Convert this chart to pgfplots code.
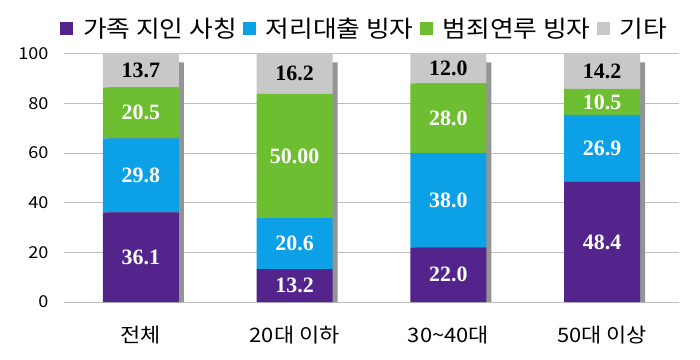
\documentclass[border=0pt]{standalone}
\usepackage{fontspec}
\setmainfont{Noto Sans CJK KR}[FakeStretch=1.1]
\newfontfamily\tnr{Liberation Serif}
\usepackage{pgfplots}
\pgfplotsset{compat=1.18}
\definecolor{cP}{RGB}{82,36,140}
\definecolor{cB}{RGB}{12,160,230}
\definecolor{cG}{RGB}{110,190,50}
\definecolor{cY}{RGB}{200,200,200}
\definecolor{cGrid}{RGB}{190,190,190}
\pgfplotsset{
  base/.style={at={(0,0)}, anchor=south west, scale only axis,
    width=615bp, height=248.4bp, xmin=-0.5, xmax=3.5, ymin=0, ymax=100, clip=false}
}
\begin{document}
\begin{tikzpicture}[x=1bp,y=1bp]
\path[use as bounding box] (-64,-57) rectangle (636,302);
% grid, tick labels and shadows
\begin{axis}[base,
  axis line style={draw=none},
  major tick length=0pt,
  ytick={0,20,...,100},
  ymajorgrids, grid style={cGrid, line width=0.9bp},
  xtick={0,1,2,3},
  xticklabels={전체,20대 이하,30\textasciitilde 40대,50대 이상},
  /pgf/number format/assume math mode=true,
  yticklabel style={font=\fontsize{16.5}{17}\selectfont, xshift=-12bp},
  xticklabel style={font=\fontsize{20}{21}\selectfont, yshift=-20bp},
  ybar, bar width=76bp, bar shift=5bp]
\addplot[fill=black!42, draw=none] coordinates {(0,96.5)(1,96.5)(2,96.5)(3,96.5)};
\end{axis}
% stacked bars
\begin{axis}[base, hide axis, ybar stacked, bar width=76bp,
  legend columns=4,
  legend style={draw=none, fill=none, at={(0.487,1)}, anchor=center, yshift=25.5bp,
    font=\fontsize{23.5}{25}\selectfont,
    nodes={inner xsep=0pt},
    /tikz/every even column/.append style={column sep=6bp},
    /tikz/every odd column/.append style={column sep=10bp}},
  legend image code/.code={\fill[#1] (0bp,-6.5bp) rectangle (13bp,6.5bp);}]
\addplot[fill=cP, draw=none] coordinates {(0,36.1)(1,13.2)(2,22.0)(3,48.4)};
\addlegendentry{가족 지인 사칭}
\addplot[fill=cB, draw=none] coordinates {(0,29.8)(1,20.6)(2,38.0)(3,26.9)};
\addlegendentry{저리대출 빙자}
\addplot[fill=cG, draw=none] coordinates {(0,20.5)(1,50.0)(2,28.0)(3,10.5)};
\addlegendentry{범죄연루 빙자}
\addplot[fill=cY, draw=none] coordinates {(0,13.7)(1,16.2)(2,12.0)(3,14.2)};
\addlegendentry{기타}
\end{axis}
% value labels
\begin{axis}[base, hide axis,
  nodes near coords, point meta=explicit symbolic,
  every node near coord/.append style={anchor=center,
    font=\tnr\bfseries\fontsize{22}{22}\selectfont}]
\addplot[draw=none, mark=none, every node near coord/.append style={text=white}]
  table[x=x, y=y, meta=l] {
x y l
0 18.05 36.1
0 51.0 29.8
0 76.15 20.5
1 6.6 13.2
1 23.5 20.6
1 58.8 50.00
2 11.0 22.0
2 41.0 38.0
2 74.0 28.0
3 24.2 48.4
3 61.85 26.9
3 80.55 10.5
};
\addplot[draw=none, mark=none, every node near coord/.append style={text=black}]
  table[x=x, y=y, meta=l] {
x y l
0 93.2 13.7
1 91.9 16.2
2 94.0 12.0
3 92.9 14.2
};
\end{axis}
\end{tikzpicture}
\end{document}
